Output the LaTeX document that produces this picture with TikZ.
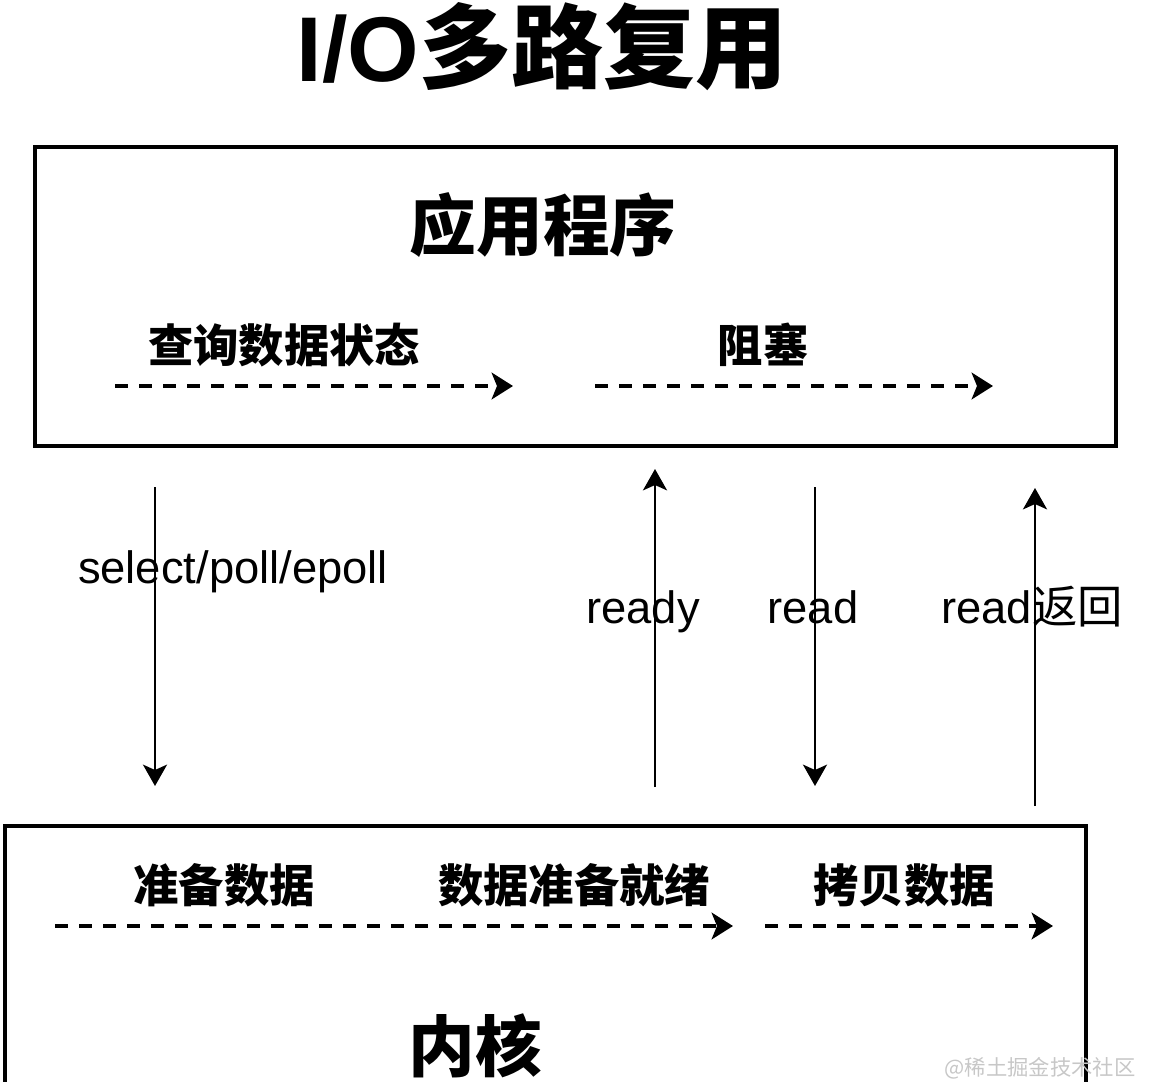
\documentclass[tikz,border=0pt]{standalone}
\usepackage{fontspec}
\setmainfont{Liberation Sans}
\newfontfamily\cjk{Noto Sans CJK SC}
\usetikzlibrary{arrows.meta,fit}

\tikzset{
  boxframe/.style={draw, line width=3.2pt, inner sep=0pt},
  headtext/.style={font=\cjk\bfseries\fontsize{50pt}{56pt}\selectfont, inner sep=0pt},
  steptext/.style={font=\cjk\bfseries\fontsize{34pt}{40pt}\selectfont, inner sep=0pt},
  calltext/.style={font=\fontsize{34pt}{40pt}\selectfont, inner sep=0pt, anchor=base},
  flow/.style={line width=2.8pt, dash pattern=on 10pt off 8pt,
    -{Stealth[length=16pt, width=20pt, inset=4pt]}},
  call/.style={line width=2pt, -{Stealth[length=16pt, width=18pt, inset=4pt]}}
}

\begin{document}
\begin{tikzpicture}[x=0.75pt, y=-0.75pt]
  \useasboundingbox (0,0) rectangle (1154,1082);

  % title
  \node[inner sep=0pt] (title) at (542,47)
    {\fontsize{69pt}{75pt}\selectfont\bfseries I/O\cjk 多路复用};

  % application box
  \node[boxframe, fit={(35,147) (1116,446)}] (app) {};
  \node[headtext] (appname) at (543,225) {应用程序};
  \node[steptext] (query) at (284,345) {查询数据状态};
  \node[steptext] (block) at (763,345) {阻塞};
  \coordinate (q0) at (115,386);
  \coordinate (q1) at (513,386);
  \coordinate (b0) at (595,386);
  \coordinate (b1) at (993,386);
  \draw[flow] (q0) -- (q1);
  \draw[flow] (b0) -- (b1);

  % kernel box (its lower edge runs past the page)
  \node[boxframe, fit={(5,826) (1086,1130)}] (kernel) {};
  \node[steptext] (prep) at (224,885) {准备数据};
  \node[steptext] (ready) at (574,885) {数据准备就绪};
  \node[steptext] (copy) at (904,885) {拷贝数据};
  \node[headtext] (kname) at (475,1046) {内核};
  \coordinate (p0) at (55,926);
  \coordinate (p1) at (733,926);
  \coordinate (c0) at (765,926);
  \coordinate (c1) at (1053,926);
  \draw[flow] (p0) -- (p1);
  \draw[flow] (c0) -- (c1);

  % calls between application and kernel
  \coordinate (sel0) at (155,487);
  \coordinate (sel1) at (155,786);
  \coordinate (rdy0) at (655,787);
  \coordinate (rdy1) at (655,469);
  \coordinate (rd0) at (815,487);
  \coordinate (rd1) at (815,786);
  \coordinate (ret0) at (1035,806);
  \coordinate (ret1) at (1035,488);
  \draw[call] (sel0) -- (sel1);
  \draw[call] (rdy0) -- (rdy1);
  \draw[call] (rd0) -- (rd1);
  \draw[call] (ret0) -- (ret1);

  \node[calltext] (selname) at (233,583) {select/poll/epoll};
  \node[calltext] (rdyname) at (643,623) {ready};
  \node[calltext] (rdname) at (813,623) {read};
  \node[calltext] (retname) at (1032,623) {read{\cjk 返回}};

  % site mark
  \node[inner sep=0pt, text=black!22, font=\cjk\fontsize{16pt}{18pt}\selectfont]
    (mark) at (1040,1068) {@稀土掘金技术社区};
\end{tikzpicture}
\end{document}
